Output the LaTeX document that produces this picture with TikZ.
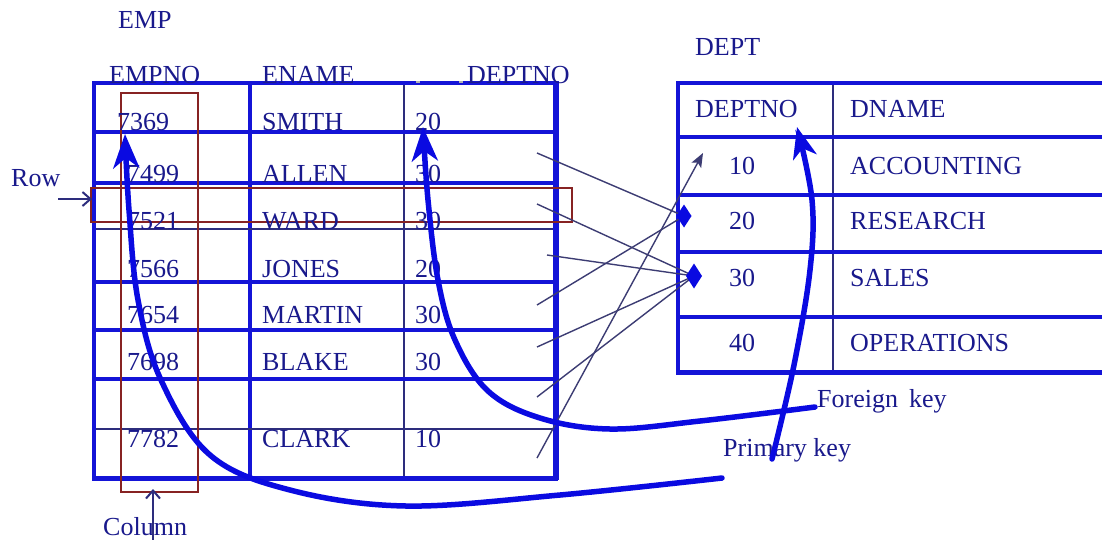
\documentclass[tikz,border=0pt]{standalone}
\usepackage{fontspec}
\setmainfont{Liberation Serif}
\usetikzlibrary{arrows.meta}
\definecolor{txt}{RGB}{25,25,140}
\definecolor{tblue}{RGB}{20,20,215}
\definecolor{tnavy}{RGB}{45,45,125}
\definecolor{thinc}{RGB}{60,60,115}
\definecolor{rboxc}{RGB}{135,35,35}
\definecolor{curvec}{RGB}{10,10,225}
\begin{document}
\begin{tikzpicture}[x=1pt,y=-1pt,
  lbl/.style={anchor=base west, inner sep=0pt, text=txt, font=\fontsize{26}{30}\selectfont},
  hb/.style={draw=tblue, line width=3.5pt},
  hbb/.style={draw=tblue, line width=5pt},
  nv/.style={draw=tnavy, line width=2.5pt},
  rbx/.style={draw=rboxc, line width=2.5pt},
  thinl/.style={draw=thinc, line width=1.4pt},
  bigcurve/.style={draw=curvec, line width=5.5pt, line cap=round,
     -{Stealth[length=34pt, width=26pt, inset=10pt]}},
  pointer/.style={draw=tnavy, line width=2pt, -{Straight Barb[length=8pt, width=14pt]}},
  diamfill/.style={fill=curvec, draw=none}
]
\useasboundingbox (0,0) rectangle (1102,539);
\fill[white] (0,0) rectangle (1102,539);

% ---------- EMP table ----------
\draw[hb] (250,83) -- (250,478);
\draw[nv] (404,83) -- (404,478);
\foreach \yy in {132,183,282,330,379} \draw[hb] (94,\yy) -- (556,\yy);
\draw[nv] (94,229) -- (556,229);
\draw[nv, line width=2pt] (94,429) -- (556,429);
\draw[hb] (94,83) -- (556,83);
\draw[hb, line width=4pt] (94,81) -- (94,480);
\draw[hbb, line width=6pt] (556,81) -- (556,480);
\draw[hbb] (92,478) -- (558,478);
\draw[gray!60, line width=1.5pt] (416,82) -- (420,82) (459,82) -- (463,82);

% ---------- DEPT table ----------
\draw[nv] (833,83) -- (833,372);
\foreach \yy in {137,195,252,317} \draw[hb] (678,\yy) -- (1102,\yy);
\draw[hb, line width=4pt] (678,83) -- (1102,83);
\draw[hb, line width=4pt] (678,81) -- (678,374);
\draw[hbb] (676,372) -- (1102,372);

% ---------- red boxes ----------
\draw[rbx] (121,93) rectangle (198,492);
\draw[rbx] (91,188) rectangle (572,222);

% ---------- labels ----------
\node[lbl] (empt) at (118,28) {EMP};
\node[lbl] (h1) at (109,83) {EMPNO};
\node[lbl] (h2) at (262,83) {ENAME};
\node[lbl] (h3) at (467,83) {DEPTNO};
\node[lbl] (e1a) at (117,130) {7369};
\node[lbl] (e1b) at (262,130) {SMITH};
\node[lbl] (e1c) at (415,130) {20};
\node[lbl] (e2a) at (127,182) {7499};
\node[lbl] (e2b) at (262,182) {ALLEN};
\node[lbl] (e2c) at (415,182) {30};
\node[lbl] (e3a) at (127,229) {7521};
\node[lbl] (e3b) at (262,229) {WARD};
\node[lbl] (e3c) at (415,229) {30};
\node[lbl] (e4a) at (127,277) {7566};
\node[lbl] (e4b) at (262,277) {JONES};
\node[lbl] (e4c) at (415,277) {20};
\node[lbl] (e5a) at (127,323) {7654};
\node[lbl] (e5b) at (262,323) {MARTIN};
\node[lbl] (e5c) at (415,323) {30};
\node[lbl] (e6a) at (127,370) {7698};
\node[lbl] (e6b) at (262,370) {BLAKE};
\node[lbl] (e6c) at (415,370) {30};
\node[lbl] (e8a) at (127,447) {7782};
\node[lbl] (e8b) at (262,447) {CLARK};
\node[lbl] (e8c) at (415,447) {10};

\node[lbl] (deptt) at (695,55) {DEPT};
\node[lbl] (dh1) at (695,117) {DEPTNO};
\node[lbl] (dh2) at (850,117) {DNAME};
\node[lbl] (d1a) at (729,174) {10};
\node[lbl] (d1b) at (850,174) {ACCOUNTING};
\node[lbl] (d2a) at (729,229) {20};
\node[lbl] (d2b) at (850,229) {RESEARCH};
\node[lbl] (d3a) at (729,286) {30};
\node[lbl] (d3b) at (850,286) {SALES};
\node[lbl] (d4a) at (729,351) {40};
\node[lbl] (d4b) at (850,351) {OPERATIONS};

\node[lbl] (fk) at (817,407) {Foreign\hspace{11pt}key};
\node[lbl] (pk) at (723,456) {Primary key};
\node[lbl] (rowl) at (11,186) {Row};
\node[lbl] (coll) at (103,535) {Column};

% ---------- row / column pointers ----------
\coordinate (rowS) at (58,199);
\coordinate (rowE) at (92,199);
\draw[pointer] (rowS) -- (rowE);
\coordinate (colS) at (153,541);
\coordinate (colE) at (153,489);
\draw[pointer] (colS) -- (colE);

% ---------- thin foreign-key lines ----------
\coordinate (s1) at (537,153);
\coordinate (s2) at (537,204);
\coordinate (s3) at (547,255);
\coordinate (s4) at (537,305);
\coordinate (s5) at (537,347);
\coordinate (s6) at (537,397);
\coordinate (s7) at (537,458);
\coordinate (d20) at (684,216);
\coordinate (d30) at (694,276);
\coordinate (t10) at (703,153);
\draw[thinl] (s1) -- (d20);
\draw[thinl] (s4) -- (d20);
\draw[thinl] (s2) -- (d30);
\draw[thinl] (s3) -- (d30);
\draw[thinl] (s5) -- (d30);
\draw[thinl] (s6) -- (d30);
\draw[thinl, -{Stealth[length=14pt, width=11pt, inset=3pt]}] (s7) -- (t10);
\fill[diamfill] (d20) +(0,-11.5) -- +(7.5,0) -- +(0,11.5) -- +(-7.5,0) -- cycle;
\fill[diamfill] (d30) +(0,-12.5) -- +(8,0) -- +(0,12.5) -- +(-8,0) -- cycle;

% ---------- big curved arrows ----------
\coordinate (fkS) at (815,407);
\coordinate (fkE) at (423,127);
\draw[bigcurve] plot[smooth, tension=0.6] coordinates {(fkS) (700,421) (610,429) (540,418) (488,391) (455,340) (438,280) (428,200) (fkE)};

\coordinate (pkS) at (772,459);
\coordinate (pkE) at (797,127);
\draw[bigcurve, -{Stealth[length=31pt, width=24pt, inset=9pt]}] plot[smooth, tension=0.6] coordinates {(pkS) (794,365) (810,270) (812,200) (pkE)};

\coordinate (cS) at (722,478);
\coordinate (cE) at (125,134);
\draw[bigcurve] plot[smooth, tension=0.6] coordinates {(cS) (560,495) (406,506) (290,490) (210,455) (161,380) (138,300) (129,210) (cE)};
\end{tikzpicture}
\end{document}
